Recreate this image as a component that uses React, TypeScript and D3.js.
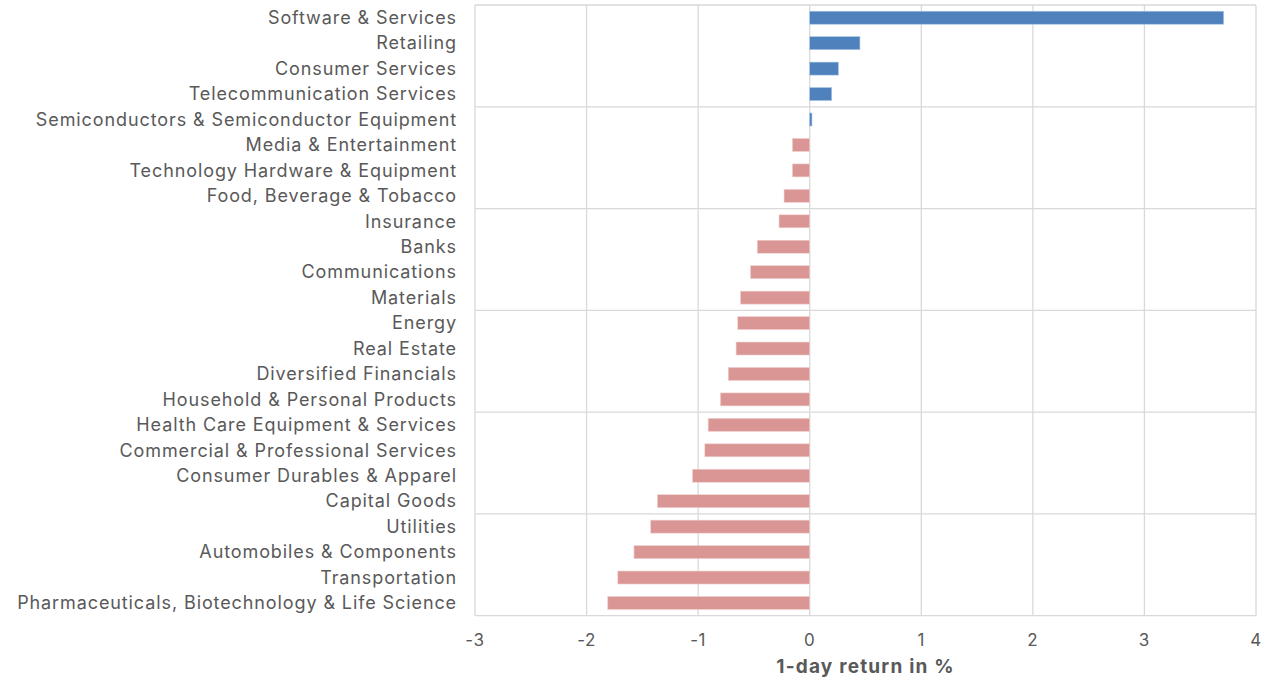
import React from "react";
import * as d3 from "d3";

const categories = [
  "Software & Services",
  "Retailing",
  "Consumer Services",
  "Telecommunication Services",
  "Semiconductors & Semiconductor Equipment",
  "Media & Entertainment",
  "Technology Hardware & Equipment",
  "Food, Beverage & Tobacco",
  "Insurance",
  "Banks",
  "Communications",
  "Materials",
  "Energy",
  "Real Estate",
  "Diversified Financials",
  "Household & Personal Products",
  "Health Care Equipment & Services",
  "Commercial & Professional Services",
  "Consumer Durables & Apparel",
  "Capital Goods",
  "Utilities",
  "Automobiles & Components",
  "Transportation",
  "Pharmaceuticals, Biotechnology & Life Science",
];

const returns = [
  3.71, 0.45, 0.257, 0.197, 0.02, -0.155, -0.155, -0.23, -0.275, -0.47, -0.53,
  -0.62, -0.645, -0.66, -0.73, -0.8, -0.91, -0.94, -1.05, -1.365, -1.425,
  -1.575, -1.72, -1.81,
];

const xTicks = [-3, -2, -1, 0, 1, 2, 3, 4];
const xTitle = "1-day return in %";

const W = 1273;
const H = 685;
const left = 475;
const right = 1256;
const top = 5;
const bottom = 615.7;

export default function App() {
  const x = d3.scaleLinear().domain([-3, 4]).range([left, right]);
  const y = d3.scaleBand().domain(categories).range([top, bottom]).paddingInner(0.49).paddingOuter(0.245);
  const band = (bottom - top) / categories.length;
  const hLines = d3.range(0, categories.length + 1, 4).map((i) => top + i * band);
  const font = "Inter, 'Noto Sans', sans-serif";
  const grid = "#d9d9d9";
  return (
    <svg
      width={W}
      height={H}
      style={{ position: "absolute", left: 0, top: 0, background: "#fff" }}
      fontFamily={font}
    >
      {xTicks.map((t) => (
        <line key={"v" + t} x1={x(t)} x2={x(t)} y1={top} y2={bottom} stroke={grid} strokeWidth={1.3} />
      ))}
      {hLines.map((yy, i) => (
        <line key={"h" + i} x1={left} x2={right} y1={yy} y2={yy} stroke={grid} strokeWidth={1.3} />
      ))}
      {categories.map((c, i) => {
        const v = returns[i];
        const x0 = x(Math.min(0, v));
        const x1 = x(Math.max(0, v));
        return (
          <rect
            key={c}
            x={x0}
            y={y(c)}
            width={Math.max(1.5, x1 - x0)}
            height={y.bandwidth()}
            fill={v >= 0 ? "#4f81bd" : "#d99694"}
            stroke={v >= 0 ? "#a9c3e6" : "#f0cfcd"}
            strokeWidth={0.6}
          />
        );
      })}
      {categories.map((c) => (
        <text
          key={"l" + c}
          x={457}
          y={(y(c) as number) + y.bandwidth() / 2}
          dy="0.35em"
          textAnchor="end"
          fontSize={18}
          letterSpacing={0.9}
          fill="#595959"
        >
          {c}
        </text>
      ))}
      {xTicks.map((t) => (
        <text key={"t" + t} x={x(t)} y={646} textAnchor="middle" fontSize={17} letterSpacing={0.6} fill="#595959">
          {t}
        </text>
      ))}
      <text x={(left + right) / 2} y={673} textAnchor="middle" fontSize={19} letterSpacing={1.2} fontWeight="bold" fill="#595959">
        {xTitle}
      </text>
    </svg>
  );
}
